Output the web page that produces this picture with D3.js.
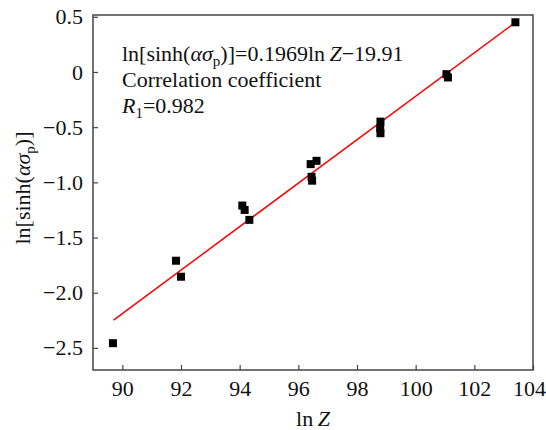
<!DOCTYPE html>
<html>
<head>
<meta charset="utf-8">
<script src="https://cdn.jsdelivr.net/npm/d3@7"></script>
<style>
  body { margin: 0; background: #fff; }
  svg text { font-family: "Liberation Serif", "Times New Roman", "DejaVu Serif", serif; }
</style>
</head>
<body>
<div id="chart"></div>
<script>
// data
var lnZ  = [89.68, 91.83, 92.0, 94.09, 94.17, 94.33, 96.42, 96.62, 96.45, 96.47, 98.8, 98.79, 98.8, 101.05, 101.1, 103.4];
var lnSh = [-2.457, -1.71, -1.855, -1.21, -1.25, -1.34, -0.835, -0.805, -0.95, -0.985, -0.45, -0.51, -0.555, -0.02, -0.05, 0.45];
var slope = 0.1969, intercept = -19.91;
var fitRange = [89.7, 103.4];
var xTicks = [90, 92, 94, 96, 98, 100, 102, 104];
var yTicks = [0.5, 0, -0.5, -1.0, -1.5, -2.0, -2.5];

var W = 546, H = 430;
var m = {left: 93, right: 13, top: 15, bottom: 60};
var serif = '"Liberation Serif", "Times New Roman", "DejaVu Serif", serif';
var fs = 22;

var svg = d3.select('#chart').append('svg')
    .attr('width', W).attr('height', H)
    .attr('font-family', serif);

var x = d3.scaleLinear().domain([89, 104]).range([m.left, W - m.right]);
var y = d3.scaleLinear().domain([-2.7, 0.516]).range([H - m.bottom, m.top]);

var frameCol = '#444';

// axes (ticks inward)
var xAxis = svg.append('g')
    .attr('transform', 'translate(0,' + (H - m.bottom) + ')')
    .call(d3.axisBottom(x).tickValues(xTicks).tickSize(-5).tickPadding(10).tickFormat(d3.format('d')));
var yAxis = svg.append('g')
    .attr('transform', 'translate(' + m.left + ',0)')
    .call(d3.axisLeft(y).tickValues(yTicks).tickSize(-5).tickPadding(10)
        .tickFormat(function(d){ return d === 0 ? '0' : (d === 0.5 ? '0.5' : d3.format('.1f')(d).replace('-', '\u2212')); }));

[xAxis, yAxis].forEach(function(g){
    g.attr('font-family', serif).attr('font-size', fs);
    g.select('.domain').remove();
    g.selectAll('line').attr('stroke', frameCol).attr('stroke-width', 1.2);
    g.selectAll('text').attr('fill', '#111');
});
// last x label sits a bit left so it stays on the page
xAxis.selectAll('.tick text').filter(function(d){ return d === 104; }).attr('dx', -4);

// frame
svg.append('rect')
    .attr('x', m.left).attr('y', m.top)
    .attr('width', W - m.left - m.right).attr('height', H - m.top - m.bottom)
    .attr('fill', 'none').attr('stroke', frameCol).attr('stroke-width', 1.5);

// fit line
svg.append('line')
    .attr('x1', x(fitRange[0])).attr('y1', y(slope * fitRange[0] + intercept))
    .attr('x2', x(fitRange[1])).attr('y2', y(slope * fitRange[1] + intercept))
    .attr('stroke', '#ff0000').attr('stroke-width', 1.5);

// points
var s = 8;
svg.selectAll('rect.pt')
    .data(lnZ)
    .enter()
    .append('rect')
    .classed('pt', true)
    .attr('x', function(d){ return x(d) - s / 2; })
    .attr('y', function(d, i){ return y(lnSh[i]) - s / 2; })
    .attr('width', s).attr('height', s)
    .attr('fill', '#000');

// annotation
var ann = svg.append('text').attr('font-size', fs).attr('fill', '#111');
var l1 = ann.append('tspan').attr('x', 122).attr('y', 61);
l1.append('tspan').text('ln[sinh(');
l1.append('tspan').attr('font-style', 'italic').text('ασ');
l1.append('tspan').attr('font-size', 15).attr('dy', 5).text('p');
l1.append('tspan').attr('dy', -5).text(')]=0.1969ln\u2009');
l1.append('tspan').attr('font-style', 'italic').text('Z');
l1.append('tspan').text('\u221219.91');
ann.append('tspan').attr('x', 122).attr('y', 87).text('Correlation coefficient');
var l3 = ann.append('tspan').attr('x', 122).attr('y', 113);
l3.append('tspan').attr('font-style', 'italic').text('R');
l3.append('tspan').attr('font-size', 15).attr('dy', 5).text('1');
l3.append('tspan').attr('dy', -5).text('=0.982');

// x title
var xt = svg.append('text').attr('font-size', fs).attr('fill', '#111')
    .attr('text-anchor', 'middle').attr('x', 313).attr('y', 426);
xt.append('tspan').text('ln\u2009');
xt.append('tspan').attr('font-style', 'italic').text('Z');

// y title
var yt = svg.append('text').attr('font-size', fs).attr('fill', '#111')
    .attr('text-anchor', 'middle')
    .attr('transform', 'translate(30,188) rotate(-90)');
yt.append('tspan').text('ln[sinh(');
yt.append('tspan').attr('font-style', 'italic').text('ασ');
yt.append('tspan').attr('font-size', 15).attr('dy', 5).text('p');
yt.append('tspan').attr('dy', -5).text(')]');
</script>
</body>
</html>
